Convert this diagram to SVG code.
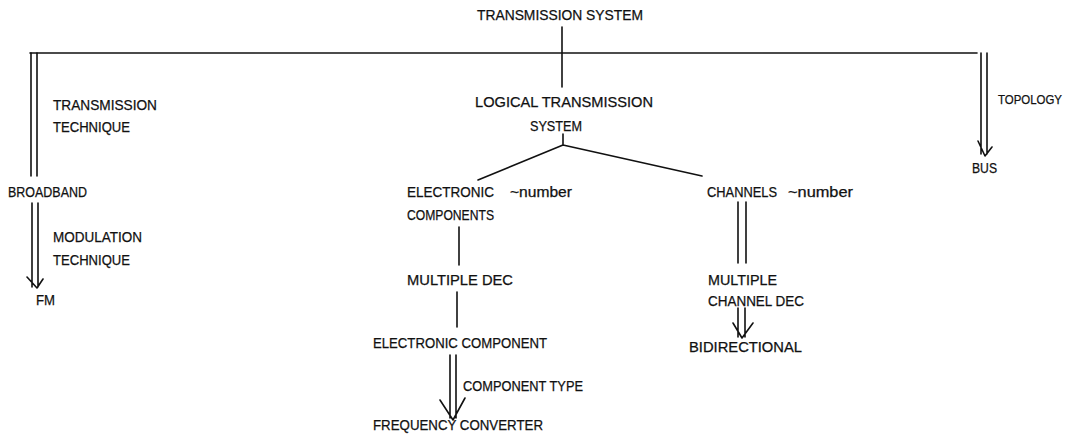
<svg xmlns="http://www.w3.org/2000/svg" width="1072" height="444" viewBox="0 0 1072 444">
<style>
  text { font-family: "Liberation Sans", Arial, sans-serif; font-size: 14px; fill: #111; stroke: #111; stroke-width: 0.25; }
  .ln { fill: none; stroke: #111; stroke-width: 1.6; stroke-linecap: round; stroke-linejoin: round; }
</style>
<rect width="1072" height="444" fill="#fff"/>
<g id="connectors">
  <path class="ln" d="M562 27 V87"/>
  <path class="ln" d="M30 53 H977"/>
  <path class="ln" d="M31 53 V176 M37 53 V176"/>
  <path class="ln" d="M32 203 V287 M38 203 V287 M27 277 L37 288 L43 279"/>
  <path class="ln" d="M981 53 V154 M987 53 V154 M978 141 L985 156 L992 147"/>
  <path class="ln" d="M563 134 V145 M563 145 L478 180 M563 145 L702 176"/>
  <path class="ln" d="M459 227 V265"/>
  <path class="ln" d="M457 292 V327"/>
  <path class="ln" d="M450 355 V418 M456 355 V418 M440 400 L453 420 L465 398"/>
  <path class="ln" d="M738 202 V263 M746 202 V263"/>
  <path class="ln" d="M738 308 V337 M745 308 V337 M733 323 L742 338 L753 323"/>
  <text x="53" y="110" textLength="104" lengthAdjust="spacingAndGlyphs">TRANSMISSION</text>
  <text x="53" y="132" textLength="77" lengthAdjust="spacingAndGlyphs">TECHNIQUE</text>
  <text x="53" y="242" textLength="89" lengthAdjust="spacingAndGlyphs">MODULATION</text>
  <text x="53" y="265" textLength="77" lengthAdjust="spacingAndGlyphs">TECHNIQUE</text>
  <text x="998" y="104" textLength="64" lengthAdjust="spacingAndGlyphs" style="font-size:12.5px">TOPOLOGY</text>
  <text x="463" y="391" textLength="120" lengthAdjust="spacingAndGlyphs">COMPONENT TYPE</text>
</g>
<g id="transmission-system">
  <text x="477" y="20" textLength="166" lengthAdjust="spacingAndGlyphs">TRANSMISSION SYSTEM</text>
</g>
<g id="broadband">
  <text x="8" y="197" textLength="79" lengthAdjust="spacingAndGlyphs">BROADBAND</text>
</g>
<g id="fm">
  <text x="36" y="305" textLength="19" lengthAdjust="spacingAndGlyphs">FM</text>
</g>
<g id="bus">
  <text x="972" y="173" textLength="25" lengthAdjust="spacingAndGlyphs">BUS</text>
</g>
<g id="logical-transmission-system">
  <text x="475" y="107" textLength="178" lengthAdjust="spacingAndGlyphs">LOGICAL TRANSMISSION</text>
  <text x="530" y="131" textLength="52" lengthAdjust="spacingAndGlyphs">SYSTEM</text>
</g>
<g id="electronic-components">
  <text x="407" y="197" textLength="87" lengthAdjust="spacingAndGlyphs">ELECTRONIC</text>
  <text x="510" y="197" textLength="62" lengthAdjust="spacingAndGlyphs">~number</text>
  <text x="407" y="220" textLength="87" lengthAdjust="spacingAndGlyphs">COMPONENTS</text>
</g>
<g id="multiple-dec">
  <text x="407" y="285" textLength="106" lengthAdjust="spacingAndGlyphs">MULTIPLE DEC</text>
</g>
<g id="electronic-component">
  <text x="373" y="348" textLength="174" lengthAdjust="spacingAndGlyphs">ELECTRONIC COMPONENT</text>
</g>
<g id="frequency-converter">
  <text x="373" y="430" textLength="170" lengthAdjust="spacingAndGlyphs">FREQUENCY CONVERTER</text>
</g>
<g id="channels">
  <text x="707" y="197" textLength="70" lengthAdjust="spacingAndGlyphs">CHANNELS</text>
  <text x="788" y="197" textLength="65" lengthAdjust="spacingAndGlyphs">~number</text>
</g>
<g id="multiple-channel-dec">
  <text x="708" y="285" textLength="69" lengthAdjust="spacingAndGlyphs">MULTIPLE</text>
  <text x="708" y="306" textLength="96" lengthAdjust="spacingAndGlyphs">CHANNEL DEC</text>
</g>
<g id="bidirectional">
  <text x="689" y="352" textLength="113" lengthAdjust="spacingAndGlyphs">BIDIRECTIONAL</text>
</g>
</svg>
